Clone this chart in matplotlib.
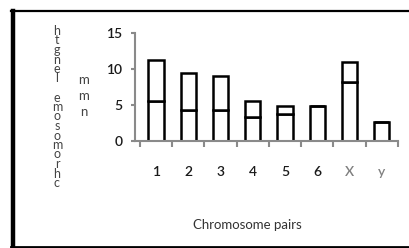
import matplotlib
matplotlib.use('Agg')
import matplotlib.pyplot as plt
from matplotlib.lines import Line2D
import numpy as np

# chromosome pairs and arm lengths
pairs = ['1', '2', '3', '4', '5', '6', 'X', 'y']
lower_arm = [5.5, 4.3, 4.3, 3.3, 3.7, 4.9, 8.2, 2.7]
upper_arm = [5.8, 5.1, 4.7, 2.2, 1.2, 0.0, 2.8, 0.0]
label_colors = ['#1a1a1a'] * 6 + ['#808080', '#808080']
y_ticks = [0, 5, 10, 15]

plt.rcParams['font.family'] = ['Lato', 'DejaVu Sans']

W, H = 410, 248
fig = plt.figure(figsize=(W / 100, H / 100), dpi=100)
fig.patch.set_facecolor('white')

ax = fig.add_axes([135 / W, 1 - 141 / H, (398 - 135) / W, (141 - 33) / H])
x = np.arange(len(pairs))
ax.bar(x, lower_arm, width=0.47, color='white', edgecolor='black', linewidth=1.8)
ax.bar(x, upper_arm, width=0.47, bottom=lower_arm, color='white', edgecolor='black', linewidth=1.8)

ax.set_xlim(-0.65, 7.5)
ax.set_ylim(0, 15)
for s in ['top', 'right']:
    ax.spines[s].set_visible(False)
for s in ['left', 'bottom']:
    ax.spines[s].set_color('#8a8a8a')
    ax.spines[s].set_linewidth(1.5)

ax.set_yticks(y_ticks)
ax.tick_params(axis='y', length=3, width=1.5, color='#8a8a8a', pad=6,
               labelsize=10, labelcolor='#1a1a1a')
ax.set_xticks(x)
ax.set_xticklabels(pairs)
ax.set_xticks(np.arange(len(pairs) + 1) - 0.5, minor=True)
ax.tick_params(axis='x', which='major', length=0, pad=18, labelsize=10)
ax.tick_params(axis='x', which='minor', length=4, width=1.5, color='#8a8a8a')
for lab, c in zip(ax.get_xticklabels(), label_colors):
    lab.set_color(c)
for lab in ax.get_xticklabels() + ax.get_yticklabels():
    lab.set_fontweight('semibold')

fig.text(247 / W, 1 - 225 / H, 'Chromosome pairs', ha='center', va='center',
         fontsize=9.5, color='#333333')

# garbled vertical axis title, letters stacked
fig.text(57 / W, 1 - 107 / H, '\n'.join(reversed('chromosome length')), ha='center',
         va='center', fontsize=9, linespacing=0.75, color='#444444')
fig.text(84 / W, 1 - 96 / H, 'm\nm\nn', ha='center', va='center',
         fontsize=9.5, linespacing=1.35, color='#444444')

# outer frame
fig.add_artist(Line2D([13 / W, 13 / W], [0, 1 - 11 / H], transform=fig.transFigure,
                      color='black', linewidth=3.2))
fig.add_artist(Line2D([11.5 / W, 1], [1 - 11 / H, 1 - 11 / H], transform=fig.transFigure,
                      color='black', linewidth=1.6))
fig.add_artist(Line2D([11.5 / W, 1], [1 - 246.5 / H, 1 - 246.5 / H], transform=fig.transFigure,
                      color='black', linewidth=2))

fig.savefig('out.png', dpi=100)
